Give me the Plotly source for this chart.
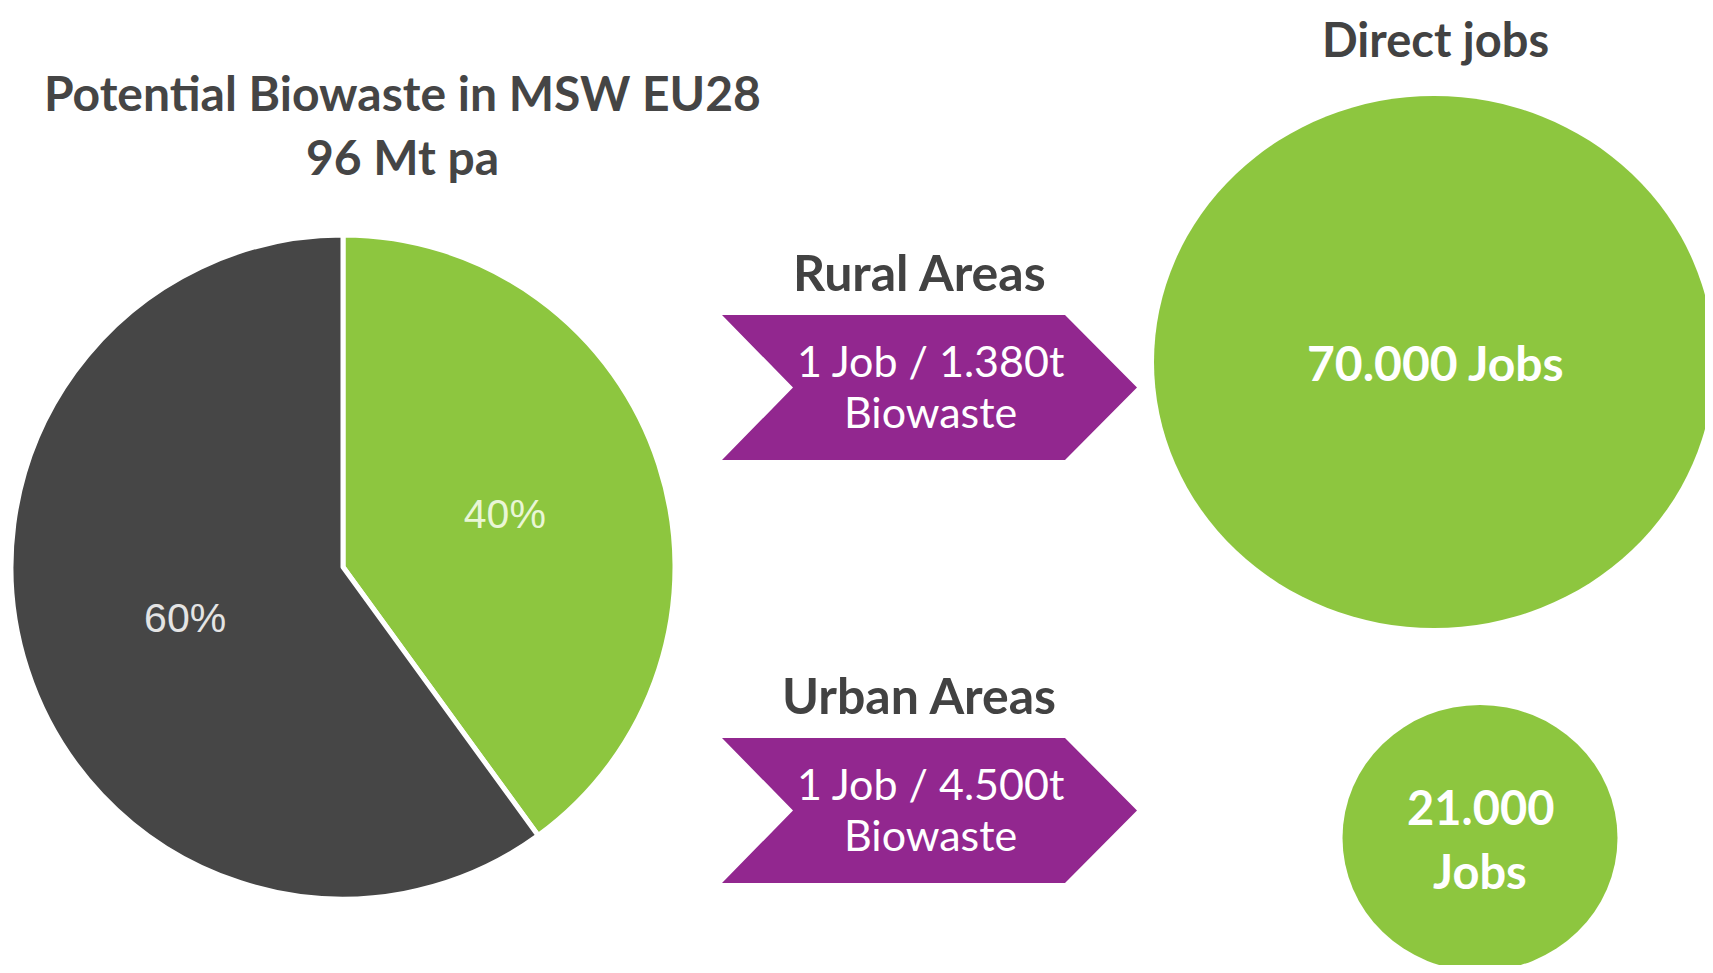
import plotly.graph_objects as go

# ---------------- data ----------------
pie_labels = ["Biowaste share A", "Biowaste share B"]
pie_values = [40, 60]
pie_colors = ["#8dc63f", "#464646"]
pie_text_colors = ["#e9f6d6", "#e4e4e4"]

title_lines = ["Potential Biowaste in MSW EU28", "96 Mt pa"]
regions = ["Rural Areas", "Urban Areas"]
tonnes_per_job = ["1.380t", "4.500t"]
direct_jobs = [70000, 21000]
jobs_header = "Direct jobs"

# ---------------- layout constants ----------------
W, H = 1713, 973          # window size
OFF = 8                   # default page body margin
FW, FH = W - OFF, H - 2 * OFF
DARK = "#424242"
PURPLE = "#92278f"
GREEN = "#8dc63f"
FONT = "Lato"

fig = go.Figure()

# pie (screen centre ~342,567 ; visible radius ~330 px)
pcx, pcy, pr = 343, 567, 332
fig.add_trace(go.Pie(
    labels=pie_labels, values=pie_values, sort=False,
    direction="clockwise", rotation=0,
    marker=dict(colors=pie_colors, line=dict(color="white", width=5)),
    texttemplate="%{percent:.0%}",
    textposition="inside", insidetextorientation="horizontal",
    insidetextfont=dict(family="Liberation Sans", size=41, color=pie_text_colors),
    domain=dict(x=[max(0, (pcx - pr - OFF) / FW), (pcx + pr - OFF) / FW],
                y=[(OFF + FH - pcy - pr) / FH, (OFF + FH - pcy + pr) / FH]),
    showlegend=False, hoverinfo="label+percent",
))

shapes = []
annotations = []

def ann(text, x, y, size, color=DARK, bold=False, yanchor="middle"):
    annotations.append(dict(
        text=("<b>%s</b>" % text) if bold else text, x=x, y=y,
        xref="x", yref="y", xanchor="center", yanchor=yanchor,
        showarrow=False, font=dict(family=FONT, size=size, color=color)))

# title
ann(title_lines[0], 402, 92, 48, color="#454545", bold=True)
ann(title_lines[1], 402, 156, 48, color="#454545", bold=True)

# chevrons with region labels
chev_top = [315, 738]
for i, region in enumerate(regions):
    t = chev_top[i]
    b = t + 145
    m = (t + b) / 2
    path = (f"M 722,{t} L 1065,{t} L 1137,{m} L 1065,{b} "
            f"L 722,{b} L 793,{m} Z")
    shapes.append(dict(type="path", path=path, xref="x", yref="y",
                       fillcolor=PURPLE, line=dict(width=0), layer="below"))
    ann(region, 919, t - 43, 50, bold=True)
    ann(f"1 Job / {tonnes_per_job[i]}", 930, t + 45, 43, color="white")
    ann("Biowaste", 930, t + 96, 43, color="white")

# job circles
circles = [(1434, 362, 280, 266), (1480, 838, 137.5, 133)]
for (cx, cy, rx, ry) in circles:
    shapes.append(dict(type="circle", xref="x", yref="y",
                       x0=cx - rx, x1=cx + rx, y0=cy - ry, y1=cy + ry,
                       fillcolor=GREEN, line=dict(width=0), layer="below"))

def fmt(n):
    return f"{n:,}".replace(",", ".")

# header anchored at the top edge of the drawing so it is never clipped
ann(jobs_header, 1435, OFF + 1, 47, bold=True, yanchor="top")
ann(f"{fmt(direct_jobs[0])} Jobs", 1435, 362, 48, color="white", bold=True)
ann(fmt(direct_jobs[1]), 1480, 807, 47, color="white", bold=True)
ann("Jobs", 1480, 871, 47, color="white", bold=True)

fig.update_layout(
    width=FW, height=FH,
    margin=dict(l=0, r=0, t=0, b=0),
    paper_bgcolor="white", plot_bgcolor="white",
    xaxis=dict(range=[OFF, W], visible=False, fixedrange=True),
    yaxis=dict(range=[OFF + FH, OFF], visible=False, fixedrange=True),
    shapes=shapes, annotations=annotations,
    showlegend=False,
)

fig.write_html("out.html")
